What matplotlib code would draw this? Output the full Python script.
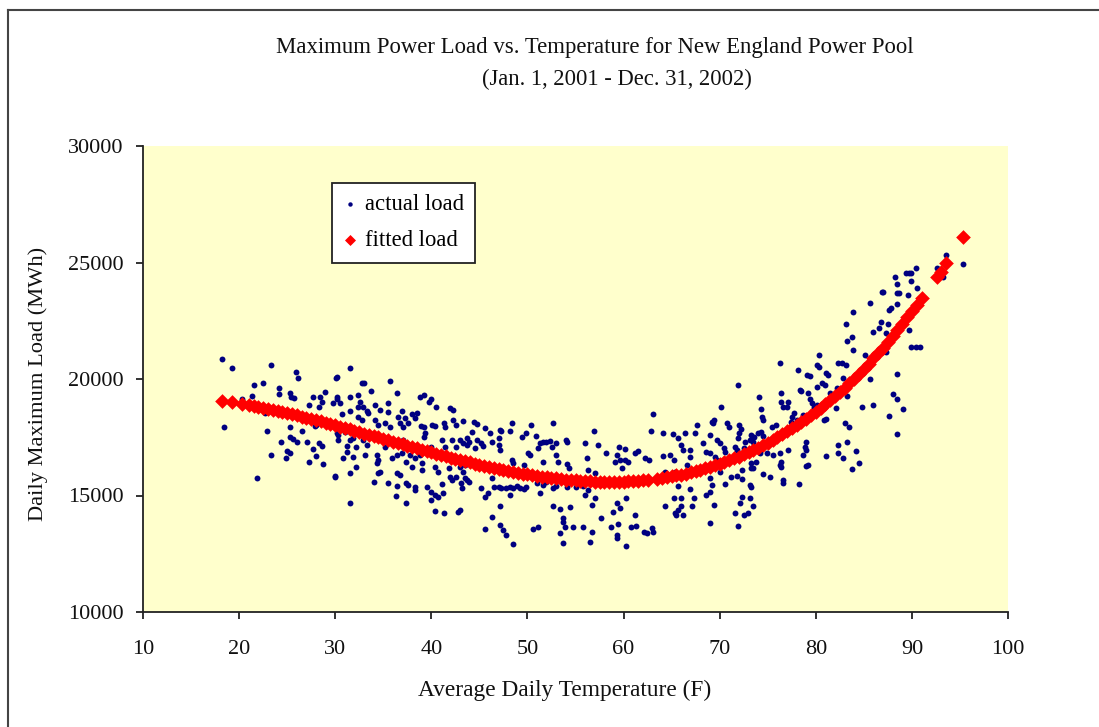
import matplotlib
matplotlib.use("Agg")
import matplotlib.pyplot as plt
from matplotlib.lines import Line2D

plt.rcParams['font.family'] = ['Liberation Serif', 'DejaVu Serif']

# ---------------- data ----------------
actual_points = [
    # 18-30 F
    (18.2,20850),(19.3,20460),(23.3,20610),(25.9,20310),(26.1,20060),(30.1,20060),(21.5,19760),(22.5,19840),
    (24.1,19600),(24.1,19360),(21.3,19280),(20.3,19130),(25.3,19390),(25.4,19210),(25.7,19170),(27.7,19210),
    (28.4,19210),(28.9,19430),(27.3,18880),(28.3,18810),(28.6,19030),(29.8,18960),(30.2,19130),(22.7,18560),
    (18.4,17930),(22.9,17780),(25.3,17930),(26.5,17780),(28.0,18030),(27.9,17980),(25.3,17530),(25.6,17440),
    (26.0,17310),(24.4,17310),(27.1,17310),(28.3,17240),(28.6,17130),(27.7,16990),(25.0,16930),(25.3,16840),
    (23.3,16750),(28.0,16680),(24.9,16600),(27.3,16440),(28.7,16350),(21.9,15750),(30.0,15820),(30.2,17670),
    (30.3,17380),
    # 30-43 F
    (31.5,20460),(30.2,20070),(32.8,19820),(33.0,19840),(35.7,19900),(33.7,19500),(36.4,19390),(30.2,19210),
    (31.5,19210),(32.4,19310),(32.6,19030),(32.4,18810),(30.5,18960),(32.9,18810),(33.3,18640),(33.4,18530),
    (34.1,18880),(34.7,18670),(35.5,18960),(35.5,18600),(38.8,19210),(39.2,19310),(39.8,19030),(40.0,19130),
    (40.5,18810),(41.9,18740),(42.3,18670),(36.9,18640),(38.0,18500),(38.5,18560),(38.3,18310),(37.3,18310),
    (36.5,18360),(30.7,18500),(31.5,18640),(32.4,18380),(32.8,18240),(34.1,18240),(34.5,18030),(35.2,18100),
    (35.7,17930),(36.7,18130),(37.1,17960),(37.6,18100),(38.9,17980),(39.2,17930),(40.1,18030),(40.4,17980),
    (41.3,18130),(41.4,17930),(42.3,18240),(42.6,18030),(43.3,18210),(30.3,17600),(31.0,17740),(31.5,17380),
    (31.9,17460),(32.9,17380),(33.3,17170),(32.2,17090),(31.2,17130),(31.2,16880),(30.8,16600),(31.9,16670),
    (33.1,16740),(35.2,17090),(36.2,17240),(37.1,17380),(38.0,17170),(39.2,17530),(39.3,17670),(40.0,17090),
    (41.1,17380),(41.4,17090),(42.1,17380),(42.6,17090),(43.0,17380),(43.3,17240),(34.3,16740),(34.5,16530),
    (35.9,16600),(36.4,16740),(36.9,16810),(37.8,16740),(38.3,16600),(38.8,16740),(34.3,16380),(34.7,16020),
    (34.5,15950),(37.4,16450),(38.0,16240),(39.0,16100),(39.0,16380),(40.4,16240),(40.7,16020),(41.8,16170),
    (41.9,15810),(42.6,15810),(43.3,16020),(31.5,15950),(32.2,16210),(30.0,15810),(34.0,15590),(35.5,15550),
    (36.4,15950),(36.7,15880),(36.4,15420),(37.4,15520),(37.6,15450),(38.3,15380),(38.3,15240),(39.5,15380),
    (40.0,15160),(40.4,15020),(41.1,15490),(41.2,15090),(42.1,15670),(43.1,15520),(31.5,14690),(36.3,14980),
    (37.4,14670),(40.4,14340),(41.3,14260),(42.8,14310),(40.0,14810),(40.7,14950),
    # 43-56 F
    (44.4,18170),(44.7,18060),(44.2,17740),(43.7,17460),(43.9,17310),(44.7,17380),(45.6,17880),(46.1,17670),
    (46.3,17310),(45.2,17270),(45.4,17130),(47.1,17810),(47.3,17780),(48.2,17780),(48.4,18100),(47.0,17460),
    (47.0,17170),(47.1,16950),(44.5,17030),(43.7,17170),(49.4,17530),(49.9,17670),(50.1,16810),(50.3,16740),
    (50.4,18030),(50.9,17550),(51.3,17240),(51.1,17030),(51.6,17310),(51.9,17310),(52.3,17360),(52.7,18100),
    (52.6,17090),(53.0,17240),(48.4,16530),(48.5,16380),(49.6,16310),(51.6,16450),(53.0,16740),(53.2,16450),
    (54.0,17380),(54.1,17310),(54.1,16350),(54.3,16170),(56.0,17240),(56.2,16600),(56.3,16100),(43.0,16240),
    (43.5,16310),(43.9,16380),(43.5,15740),(43.9,15590),(43.7,15670),(43.2,15310),(43.0,14380),(45.2,15310),
    (45.6,14950),(45.9,15090),(46.3,15740),(46.5,15380),(47.0,15380),(47.3,15310),(47.8,15310),(48.2,15380),
    (48.5,15310),(48.9,15410),(48.2,15020),(49.2,15310),(49.6,15270),(49.9,15380),(51.0,15520),(51.3,15090),
    (51.6,15450),(51.9,15590),(52.7,15310),(53.0,15410),(54.1,15380),(55.1,15380),(55.8,15410),(56.3,15240),
    (47.1,14550),(46.3,14090),(45.6,13550),(47.1,13730),(47.5,13520),(47.8,13310),(48.5,12910),(50.6,13550),
    (51.1,13650),(52.7,14550),(53.4,14410),(53.7,14020),(53.7,13880),(54.4,14520),(53.9,13660),(53.4,13380),
    (54.7,13660),(53.7,12980),(55.8,13660),(56.0,15020),
    # 56-69 F
    (63.1,18480),(56.9,17780),(57.3,17160),(58.2,16840),(59.5,17090),(60.2,16980),(59.3,16740),(59.1,16450),
    (59.6,16530),(60.2,16530),(59.8,16170),(60.5,16450),(61.2,16840),(61.5,16930),(62.2,16600),(62.6,16530),
    (62.9,17780),(64.1,17700),(65.1,17640),(65.7,17460),(66.4,17700),(66.0,17170),(66.2,16950),(66.9,16950),
    (67.6,18030),(67.4,17670),(68.3,17240),(68.6,16880),(69.3,18100),(64.1,16700),(64.8,16740),(65.2,16530),
    (64.3,16020),(65.4,16020),(66.6,16310),(66.9,16670),(57.0,15950),(56.7,14590),(57.0,14880),(59.3,14660),
    (59.6,14470),(58.9,14310),(60.3,14880),(57.7,14020),(58.7,13660),(59.4,13780),(56.7,13450),(56.5,12990),
    (59.3,13310),(59.3,13160),(60.3,12840),(60.8,13660),(61.3,13690),(61.2,14160),(62.1,13450),(62.4,13380),
    (63.0,13590),(63.1,13450),(64.3,14550),(65.2,14880),(65.4,14240),(65.7,14380),(66.0,14880),(66.0,14550),
    (66.2,14160),(65.5,14160),(67.1,14550),(67.3,14880),(66.9,15270),(65.7,15410),(68.6,15020),
    # 69-82 F
    (80.3,21030),(80.1,20600),(80.3,20530),(76.3,20700),(78.1,20390),(79.1,20170),(79.4,20130),(81.1,20240),
    (81.3,20170),(82.3,20700),(71.9,19740),(74.1,19210),(76.4,19390),(78.4,19530),(78.5,19500),(79.2,19390),
    (79.4,19130),(80.6,19840),(81.0,19740),(80.1,19670),(82.2,19600),(76.4,19030),(77.1,19030),(76.6,18810),
    (77.0,18810),(79.6,18960),(80.1,18880),(79.8,18810),(81.5,19390),(82.1,18740),(70.1,18810),(74.3,18710),
    (74.4,18380),(74.5,18240),(75.9,18030),(75.4,17960),(77.7,18530),(77.5,18380),(77.4,18170),(78.0,18240),
    (69.2,18170),(69.4,18240),(70.8,18100),(71.0,17930),(72.0,18030),(72.2,17840),(72.0,17670),(71.9,17460),
    (73.3,17600),(73.6,17530),(74.0,17670),(74.3,17740),(74.5,17560),(73.2,17380),(72.6,17310),(73.5,17310),
    (69.0,17600),(69.7,17380),(70.0,17240),(70.4,17030),(70.6,16880),(71.6,17090),(71.8,16950),(69.0,16810),
    (69.5,16670),(69.7,16530),(72.5,17030),(72.6,16810),(74.2,16810),(73.8,16450),(73.5,16170),(73.3,16380),
    (74.9,16840),(75.6,16740),(76.3,16810),(77.1,16950),(76.4,16450),(76.3,16310),(76.4,16240),(79.0,17310),
    (78.9,17090),(79.0,16950),(78.7,16740),(79.2,16310),(79.0,16270),(81.1,16700),(82.3,17170),(82.3,16810),
    (69.2,16170),(70.0,16020),(70.6,15490),(71.2,15810),(71.8,15840),(72.3,15690),(72.3,16100),(73.3,16170),
    (74.5,15920),(75.2,15810),(76.6,15670),(76.6,15520),(78.3,15490),(69.0,15740),(69.2,15450),(73.2,15450),
    (73.3,15380),(69.0,15170),(69.4,14590),(72.3,14950),(72.1,14660),(73.2,14880),(73.5,14560),(71.6,14240),
    (72.5,14160),(72.9,14240),(69.0,13810),(71.9,13700),
    # 78-96 F
    (95.3,24940),(93.5,25340),(92.6,24780),(93.2,24390),(90.4,24780),(89.9,24540),(89.4,24540),(89.7,24560),
    (88.2,24390),(88.4,24080),(89.9,24220),(86.9,23750),(87.0,23750),(88.4,23680),(88.7,23680),(89.6,23610),
    (90.5,23890),(88.5,23210),(87.8,23030),(87.6,22960),(85.6,23270),(83.9,22890),(83.1,22350),(86.8,22430),
    (87.5,22350),(86.6,22180),(86.0,22030),(83.8,21790),(83.3,21650),(89.7,22100),(87.3,21960),(87.3,21170),
    (89.9,21390),(90.4,21390),(90.8,21390),(83.9,21250),(85.1,21030),(82.7,20670),(83.1,20600),(82.8,20060),
    (83.2,19270),(85.6,19990),(88.4,20220),(88.0,19360),(88.4,19130),(89.1,18710),(84.8,18810),(86.0,18880),
    (87.6,18410),(88.4,17630),(78.7,18460),(79.0,18380),(80.9,18240),(81.1,18270),(83.0,18100),(83.5,17930),
    (83.2,17310),(84.2,16930),(84.5,16380),(83.8,16120),(82.8,16600),
]
actual_temp = [p[0] for p in actual_points]
actual_load = [p[1] for p in actual_points]

fitted_temp = [18.2, 19.3, 20.3,
    21.0, 21.5, 22.0, 22.5, 23.0, 23.5, 24.0, 24.5, 25.0, 25.5, 26.0, 26.5, 27.0, 27.5, 28.0, 28.5,
    29.0, 29.5, 30.0, 30.5, 31.0, 31.5, 32.0, 32.5, 33.0, 33.5, 34.0, 34.5, 35.0, 35.5, 36.0, 36.5,
    37.0, 37.5, 38.0, 38.5, 39.0, 39.5, 40.0, 40.5, 41.0, 41.5, 42.0, 42.5, 43.0, 43.5, 44.0, 44.5,
    45.0, 45.5, 46.0, 46.5, 47.0, 47.5, 48.0, 48.5, 49.0, 49.5, 50.0, 50.5, 51.0, 51.5, 52.0, 52.5,
    53.0, 53.5, 54.0, 54.5, 55.0, 55.5, 56.0, 56.5, 57.0, 57.5, 58.0, 58.5, 59.0, 59.5, 60.0, 60.5,
    61.0, 61.5, 62.0, 62.5, 63.5, 64.0, 64.5, 65.0, 65.5, 66.0, 66.5, 67.0, 67.5, 68.0, 68.5, 69.0,
    69.5, 70.0, 70.5, 71.0, 71.5, 72.0, 72.5, 73.0, 73.5, 74.0, 74.5, 75.0, 75.5, 76.0, 76.5, 77.0,
    77.5, 78.0, 78.5, 79.0, 79.5, 80.0, 80.5, 81.0, 81.5, 82.0, 82.5, 83.0, 83.5, 84.0, 84.5, 85.0,
    85.5, 86.0, 86.5, 87.0, 87.5, 88.0, 88.5, 89.0, 89.5, 90.0, 90.5, 91.0,
    92.6, 93.0, 93.5, 95.3]
fitted_load = [19070, 19010, 18940,
    18890, 18850, 18810, 18770, 18720, 18680, 18630, 18590, 18540, 18490, 18440, 18390, 18340, 18280, 18230, 18180,
    18120, 18070, 18010, 17950, 17900, 17840, 17780, 17720, 17660, 17610, 17550, 17490, 17430, 17370, 17310, 17250,
    17190, 17140, 17080, 17020, 16960, 16910, 16850, 16790, 16740, 16680, 16630, 16580, 16520, 16470, 16420, 16370,
    16320, 16280, 16230, 16190, 16140, 16100, 16060, 16020, 15980, 15940, 15910, 15870, 15840, 15810, 15780, 15750,
    15730, 15700, 15680, 15660, 15650, 15630, 15620, 15610, 15600, 15590, 15590, 15590, 15590, 15590, 15600, 15610,
    15620, 15640, 15650, 15670, 15720, 15750, 15780, 15820, 15860, 15900, 15940, 15990, 16040, 16100, 16160, 16220,
    16290, 16360, 16430, 16510, 16590, 16670, 16760, 16850, 16950, 17050, 17160, 17270, 17380, 17500, 17620, 17750,
    17880, 18010, 18150, 18300, 18450, 18600, 18760, 18920, 19090, 19260, 19440, 19630, 19820, 20020, 20220, 20430,
    20650, 20880, 21110, 21350, 21600, 21850, 22110, 22370, 22640, 22910, 23190, 23470,
    24390, 24600, 24960, 26080]

x_ticks = [10, 20, 30, 40, 50, 60, 70, 80, 90, 100]
y_ticks = [10000, 15000, 20000, 25000, 30000]

title_line1 = "Maximum Power Load vs. Temperature for New England Power Pool"
title_line2 = "(Jan. 1, 2001 - Dec. 31, 2002)"
x_label = "Average Daily Temperature (F)"
y_label = "Daily Maximum Load (MWh)"

# ---------------- figure ----------------
W, H = 1099, 727
fig = plt.figure(figsize=(W / 100, H / 100), dpi=100)
fig.patch.set_facecolor('white')

ax = fig.add_axes([143 / W, 1 - 612 / H, (1008 - 143) / W, (612 - 146) / H])
ax.set_facecolor('#FFFFCC')

ax.scatter(actual_temp, actual_load, s=18, color='#000080', marker='o',
           linewidths=0, label='actual load', zorder=3)
ax.scatter(fitted_temp, fitted_load, s=56, color='#FF0000', marker='D',
           linewidths=0, label='fitted load', zorder=4)

ax.set_xlim(10, 100)
ax.set_ylim(10000, 30000)
ax.set_xticks(x_ticks)
ax.set_yticks(y_ticks)
ax.set_xticklabels([str(v) for v in x_ticks])
ax.set_yticklabels([str(v) for v in y_ticks])

for side in ['top', 'right']:
    ax.spines[side].set_visible(False)
for side in ['left', 'bottom']:
    ax.spines[side].set_color('#222222')
    ax.spines[side].set_linewidth(1.3)
ax.tick_params(axis='both', direction='out', length=5, width=1.3, color='#222222',
               labelsize=16, labelcolor='#111111')
ax.tick_params(axis='x', pad=15)
ax.tick_params(axis='y', pad=9)

# axis titles placed where the reference has them
fig.text(565 / W, 1 - 690 / H, x_label, ha='center', va='center', fontsize=16.8, color='#111111')
fig.text(38 / W, 1 - 384 / H, y_label, ha='center', va='center', rotation=90,
         fontsize=16.2, color='#111111')

fig.text(595 / W, 1 - 48 / H, title_line1, ha='center', va='center', fontsize=16.4, color='#111111')
fig.text(617 / W, 1 - 79 / H, title_line2, ha='center', va='center', fontsize=16.3, color='#111111')

leg = ax.legend(loc='upper left', bbox_to_anchor=((332 - 143) / 865, (612 - 183) / 466),
                borderaxespad=0, frameon=True, fancybox=False, fontsize=16.3,
                handlelength=0.6, handletextpad=0.35, labelspacing=0.66,
                borderpad=0.5, markerscale=0.75)
leg.get_frame().set_edgecolor('#222222')
leg.get_frame().set_linewidth(1.3)
leg.get_frame().set_facecolor('white')
leg.get_frame().set_alpha(1)

# outer frame (left and top edges visible)
fig.add_artist(Line2D([8 / W, 8 / W], [0, 1 - 10 / H], transform=fig.transFigure,
                      color='#444444', linewidth=1.5))
fig.add_artist(Line2D([8 / W, 1], [1 - 10 / H, 1 - 10 / H], transform=fig.transFigure,
                      color='#444444', linewidth=1.5))

fig.savefig('out.png', dpi=100)
